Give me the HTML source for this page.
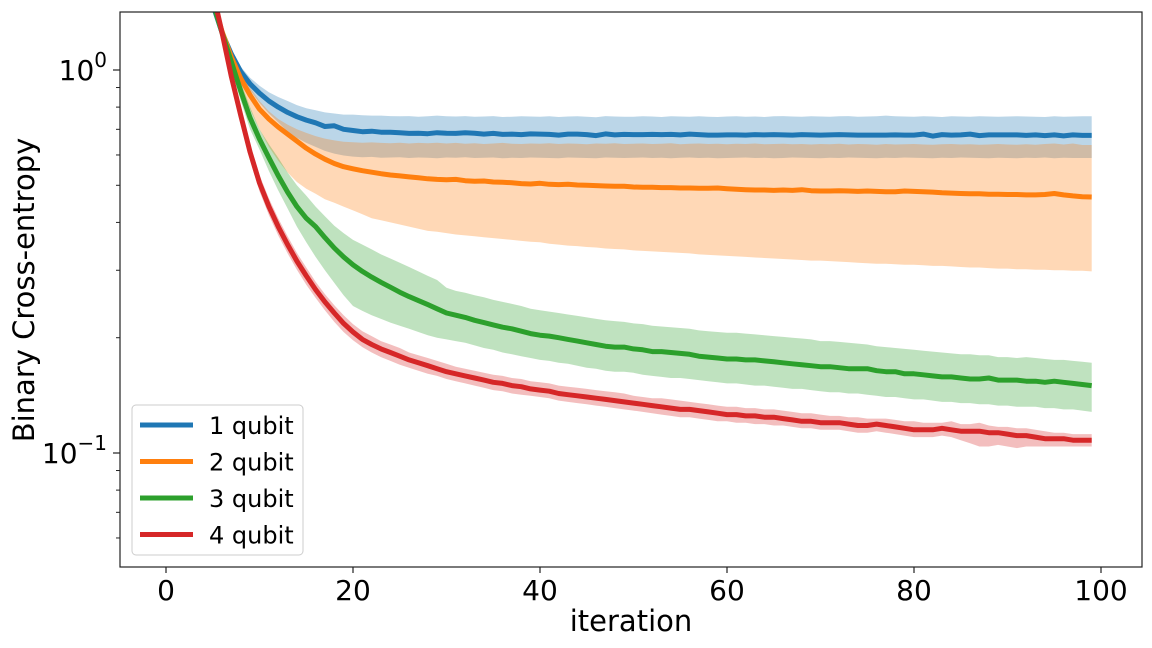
<!DOCTYPE html>
<html><head><meta charset="utf-8"><style>
body{margin:0;background:#fff;}
svg{display:block;font-family:"DejaVu Sans","Liberation Sans",sans-serif;}
</style></head><body>
<svg id="chart" width="1152" height="648" viewBox="0 0 1152 648">
<defs><clipPath id="plotclip"><rect x="120" y="12" width="1022" height="555"/></clipPath></defs>
<rect x="0" y="0" width="1152" height="648" fill="#fff"/>
<g id="bands" clip-path="url(#plotclip)"></g>
<g id="lines" clip-path="url(#plotclip)"></g>
<rect x="120" y="12" width="1022" height="555" fill="none" stroke="#222" stroke-width="1.2"/>
<g id="axes"></g>
<text x="631" y="631" text-anchor="middle" font-size="29" fill="#000">iteration</text>
<text transform="translate(34,290) rotate(-90)" text-anchor="middle" font-size="29" fill="#000">Binary Cross-entropy</text>
<g id="legend"></g>
</svg>
<script>
const seriesNames = ["1 qubit","2 qubit","3 qubit","4 qubit"];
const xTicks = [0,20,40,60,80,100];
const yMajor = [1, 0.1];
const yMajorLabels = ["0","−1"];
const yMinor = [0.06,0.07,0.08,0.09,0.2,0.3,0.4,0.5,0.6,0.7,0.8,0.9];

const blueMean = [5.0,3.8,2.9,2.25,1.8,1.48,1.25,1.1,0.99,0.92,
0.87,0.83,0.80,0.775,0.755,0.74,0.728,0.712,0.715,0.70,
0.695,0.69,0.692,0.688,0.688,0.686,0.683,0.684,0.682,0.686,
0.684,0.683,0.686,0.684,0.680,0.683,0.679,0.680,0.678,0.681,
0.680,0.679,0.676,0.680,0.680,0.678,0.674,0.681,0.677,0.679,
0.678,0.678,0.679,0.678,0.679,0.677,0.680,0.678,0.676,0.676,
0.677,0.677,0.676,0.678,0.677,0.678,0.677,0.676,0.678,0.677,
0.676,0.677,0.678,0.677,0.676,0.676,0.676,0.676,0.677,0.676,
0.676,0.680,0.672,0.678,0.676,0.677,0.680,0.674,0.677,0.677,
0.677,0.677,0.675,0.677,0.674,0.677,0.673,0.677,0.675,0.675];
const blueHi = [5.1,3.9,2.95,2.3,1.84,1.51,1.28,1.13,1.02,0.955,
0.91,0.875,0.85,0.83,0.81,0.795,0.785,0.775,0.77,0.765,
0.765,0.762,0.76,0.76,0.758,0.757,0.758,0.755,0.757,0.76,
0.757,0.756,0.758,0.755,0.756,0.758,0.754,0.755,0.757,0.756,
0.755,0.757,0.754,0.756,0.757,0.755,0.753,0.758,0.756,0.755,
0.755,0.757,0.756,0.754,0.757,0.756,0.755,0.757,0.755,0.754,
0.756,0.757,0.755,0.756,0.754,0.757,0.758,0.756,0.755,0.757,
0.756,0.755,0.757,0.758,0.755,0.756,0.757,0.760,0.757,0.756,
0.755,0.757,0.756,0.754,0.757,0.756,0.755,0.757,0.756,0.755,
0.756,0.757,0.756,0.755,0.754,0.757,0.755,0.756,0.757,0.757];
const blueLo = [4.9,3.7,2.85,2.2,1.76,1.45,1.22,1.07,0.96,0.885,
0.82,0.77,0.73,0.69,0.665,0.645,0.63,0.615,0.605,0.598,
0.594,0.592,0.593,0.59,0.591,0.592,0.589,0.591,0.59,0.588,
0.591,0.59,0.592,0.589,0.59,0.591,0.588,0.59,0.589,0.591,
0.59,0.589,0.588,0.591,0.59,0.589,0.588,0.591,0.59,0.589,
0.59,0.591,0.589,0.59,0.588,0.59,0.591,0.589,0.59,0.588,
0.589,0.59,0.591,0.589,0.59,0.588,0.589,0.591,0.59,0.589,
0.588,0.59,0.589,0.591,0.59,0.589,0.588,0.59,0.589,0.591,
0.59,0.589,0.588,0.59,0.589,0.591,0.59,0.589,0.588,0.59,
0.589,0.588,0.59,0.589,0.591,0.588,0.59,0.589,0.589,0.589];

const orangeMean = [5.5,4.1,3.1,2.4,1.9,1.52,1.26,1.08,0.95,0.86,
0.79,0.745,0.71,0.68,0.652,0.625,0.603,0.585,0.57,0.559,
0.552,0.546,0.541,0.536,0.532,0.529,0.526,0.523,0.52,0.518,
0.517,0.518,0.514,0.512,0.513,0.51,0.509,0.508,0.505,0.504,
0.506,0.503,0.502,0.503,0.501,0.5,0.499,0.498,0.497,0.497,
0.495,0.494,0.494,0.493,0.493,0.492,0.492,0.491,0.491,0.492,
0.49,0.488,0.487,0.486,0.486,0.485,0.486,0.485,0.487,0.484,
0.483,0.483,0.484,0.483,0.482,0.483,0.482,0.481,0.481,0.483,
0.482,0.481,0.48,0.478,0.477,0.476,0.475,0.475,0.474,0.474,
0.473,0.473,0.472,0.472,0.473,0.476,0.472,0.469,0.467,0.466];
const orangeHi = [5.7,4.25,3.2,2.48,1.96,1.57,1.3,1.12,0.99,0.9,
0.83,0.78,0.745,0.72,0.7,0.685,0.672,0.662,0.655,0.65,
0.648,0.646,0.647,0.645,0.644,0.646,0.643,0.645,0.644,0.646,
0.643,0.645,0.642,0.644,0.641,0.643,0.645,0.642,0.641,0.643,
0.642,0.644,0.641,0.643,0.642,0.640,0.643,0.642,0.644,0.641,
0.642,0.643,0.641,0.642,0.644,0.640,0.642,0.643,0.641,0.642,
0.640,0.642,0.641,0.643,0.640,0.641,0.642,0.640,0.641,0.639,
0.641,0.640,0.642,0.639,0.641,0.640,0.638,0.641,0.639,0.640,
0.641,0.639,0.638,0.640,0.641,0.639,0.640,0.638,0.639,0.641,
0.639,0.638,0.640,0.638,0.641,0.643,0.639,0.643,0.637,0.637];
const orangeLo = [5.3,3.95,3.0,2.32,1.84,1.47,1.22,1.04,0.9,0.79,
0.7,0.63,0.58,0.54,0.51,0.49,0.475,0.46,0.45,0.44,
0.43,0.42,0.41,0.405,0.4,0.395,0.39,0.385,0.38,0.378,
0.375,0.372,0.37,0.368,0.366,0.364,0.362,0.36,0.358,0.356,
0.355,0.352,0.35,0.348,0.347,0.345,0.344,0.342,0.341,0.34,
0.338,0.337,0.336,0.335,0.334,0.333,0.332,0.33,0.329,0.328,
0.327,0.326,0.325,0.324,0.323,0.322,0.321,0.32,0.319,0.318,
0.318,0.317,0.316,0.315,0.314,0.313,0.312,0.312,0.311,0.31,
0.31,0.309,0.308,0.308,0.307,0.306,0.305,0.305,0.304,0.303,
0.303,0.302,0.302,0.301,0.301,0.3,0.3,0.299,0.299,0.298];

const greenMean = [5.8,4.2,3.15,2.4,1.88,1.5,1.25,1.05,0.88,0.75,
0.66,0.59,0.53,0.48,0.44,0.41,0.39,0.365,0.343,0.325,
0.31,0.298,0.288,0.279,0.271,0.263,0.256,0.25,0.244,0.238,
0.232,0.229,0.226,0.222,0.219,0.216,0.213,0.211,0.208,0.205,
0.203,0.202,0.2,0.198,0.196,0.194,0.192,0.19,0.189,0.189,
0.187,0.186,0.184,0.184,0.183,0.182,0.181,0.179,0.178,0.177,
0.176,0.176,0.175,0.175,0.174,0.173,0.172,0.171,0.17,0.169,
0.168,0.168,0.167,0.166,0.166,0.166,0.164,0.163,0.163,0.161,
0.161,0.16,0.159,0.158,0.158,0.157,0.156,0.156,0.157,0.155,
0.155,0.155,0.154,0.154,0.153,0.154,0.153,0.152,0.151,0.15];
const greenHi = [6.0,4.4,3.3,2.5,1.95,1.58,1.32,1.1,0.93,0.8,
0.7,0.64,0.59,0.54,0.5,0.47,0.44,0.415,0.392,0.375,
0.36,0.35,0.34,0.33,0.322,0.314,0.306,0.298,0.29,0.283,
0.27,0.265,0.262,0.258,0.255,0.251,0.248,0.245,0.242,0.238,
0.236,0.234,0.232,0.23,0.228,0.226,0.224,0.222,0.221,0.22,
0.218,0.217,0.215,0.214,0.213,0.212,0.211,0.209,0.208,0.207,
0.206,0.206,0.205,0.204,0.203,0.202,0.201,0.2,0.199,0.198,
0.196,0.196,0.195,0.194,0.193,0.192,0.19,0.189,0.188,0.187,
0.186,0.185,0.184,0.183,0.182,0.181,0.181,0.18,0.18,0.178,
0.178,0.177,0.178,0.177,0.176,0.175,0.175,0.174,0.173,0.172];
const greenLo = [5.5,4.0,3.0,2.3,1.8,1.45,1.2,1.0,0.83,0.7,
0.62,0.545,0.485,0.435,0.39,0.355,0.325,0.3,0.278,0.258,
0.242,0.235,0.229,0.224,0.219,0.215,0.211,0.207,0.203,0.2,
0.198,0.196,0.194,0.191,0.188,0.186,0.183,0.181,0.179,0.177,
0.175,0.174,0.172,0.171,0.169,0.167,0.166,0.164,0.163,0.163,
0.162,0.16,0.159,0.158,0.157,0.157,0.156,0.155,0.154,0.153,
0.152,0.152,0.151,0.15,0.15,0.149,0.148,0.147,0.147,0.146,
0.145,0.144,0.144,0.143,0.143,0.142,0.141,0.14,0.14,0.139,
0.138,0.138,0.137,0.136,0.136,0.135,0.135,0.134,0.134,0.133,
0.133,0.132,0.132,0.132,0.131,0.131,0.13,0.13,0.129,0.128];

const redMean = [6.5,4.6,3.3,2.4,1.95,1.6,1.25,0.96,0.76,0.61,
0.507,0.44,0.39,0.35,0.317,0.29,0.267,0.248,0.232,0.218,
0.207,0.198,0.192,0.187,0.183,0.179,0.175,0.172,0.169,0.166,
0.163,0.161,0.159,0.157,0.155,0.153,0.152,0.15,0.149,0.147,
0.146,0.145,0.143,0.142,0.141,0.14,0.139,0.138,0.137,0.136,
0.135,0.134,0.133,0.132,0.131,0.13,0.13,0.129,0.128,0.127,
0.126,0.126,0.125,0.125,0.124,0.124,0.123,0.122,0.121,0.121,
0.12,0.12,0.12,0.119,0.118,0.118,0.119,0.118,0.117,0.116,
0.115,0.115,0.115,0.116,0.115,0.114,0.114,0.114,0.113,0.113,
0.112,0.111,0.111,0.11,0.109,0.109,0.109,0.108,0.108,0.108];
const redHi = [6.8,4.8,3.45,2.5,2.03,1.68,1.31,1.01,0.8,0.64,
0.532,0.462,0.41,0.368,0.333,0.305,0.28,0.26,0.243,0.229,
0.217,0.208,0.202,0.196,0.192,0.188,0.183,0.18,0.177,0.174,
0.171,0.168,0.166,0.164,0.162,0.16,0.159,0.157,0.156,0.154,
0.153,0.152,0.15,0.149,0.148,0.147,0.146,0.145,0.144,0.143,
0.141,0.14,0.139,0.139,0.138,0.137,0.136,0.135,0.134,0.133,
0.132,0.132,0.131,0.131,0.13,0.13,0.129,0.128,0.127,0.127,
0.126,0.125,0.125,0.124,0.124,0.123,0.123,0.123,0.122,0.121,
0.121,0.12,0.12,0.12,0.121,0.119,0.119,0.12,0.118,0.117,
0.117,0.116,0.116,0.115,0.114,0.113,0.113,0.112,0.112,0.112];
const redLo = [6.2,4.4,3.15,2.3,1.87,1.52,1.19,0.91,0.72,0.58,
0.482,0.418,0.37,0.332,0.301,0.275,0.254,0.236,0.22,0.207,
0.197,0.189,0.183,0.178,0.174,0.17,0.167,0.164,0.161,0.159,
0.156,0.154,0.152,0.15,0.148,0.146,0.145,0.143,0.142,0.141,
0.14,0.139,0.137,0.136,0.135,0.134,0.133,0.132,0.131,0.13,
0.129,0.128,0.127,0.126,0.125,0.124,0.124,0.123,0.122,0.121,
0.121,0.12,0.12,0.119,0.119,0.118,0.118,0.117,0.116,0.116,
0.115,0.115,0.115,0.114,0.113,0.113,0.114,0.113,0.112,0.111,
0.11,0.11,0.11,0.111,0.11,0.108,0.106,0.104,0.104,0.105,
0.104,0.103,0.104,0.104,0.104,0.104,0.104,0.104,0.104,0.104];

const seriesMeans = [blueMean, orangeMean, greenMean, redMean];
const seriesHis = [blueHi, orangeHi, greenHi, redHi];
const seriesLos = [blueLo, orangeLo, greenLo, redLo];
const colors = ["#1f77b4","#ff7f0e","#2ca02c","#d62728"];

const NS = "http://www.w3.org/2000/svg";
function xs(i){ return 166 + i * 9.35; }
function ys(v){ return 70 - Math.log10(v) * 383; }
function mk(tag, attrs, parent){
  const el = document.createElementNS(NS, tag);
  for (const k in attrs) el.setAttribute(k, attrs[k]);
  parent.appendChild(el);
  return el;
}
const bandsG = document.getElementById('bands');
const linesG = document.getElementById('lines');
const axesG = document.getElementById('axes');
const legendG = document.getElementById('legend');

for (let s = 0; s < seriesMeans.length; s++) {
  const hi = seriesHis[s], lo = seriesLos[s];
  let d = "";
  for (let i = 0; i < hi.length; i++) d += (i ? "L" : "M") + xs(i).toFixed(1) + "," + ys(hi[i]).toFixed(1);
  for (let i = lo.length - 1; i >= 0; i--) d += "L" + xs(i).toFixed(1) + "," + ys(lo[i]).toFixed(1);
  const band = mk('path', {d: d + "Z", fill: colors[s], 'fill-opacity': 0.3, stroke: 'none'}, bandsG);
  
  
}
for (let s = 0; s < seriesMeans.length; s++) {
  const m = seriesMeans[s];
  let pts = m.map((v, i) => xs(i).toFixed(1) + "," + ys(v).toFixed(1)).join(" ");
  const line = mk('polyline', {points: pts, fill: 'none', stroke: colors[s], 'stroke-width': 5, 'stroke-linejoin': 'round'}, linesG);
  
  
}
xTicks.forEach(t => {
  const x = xs(t);
  const tk = mk('line', {x1: x, x2: x, y1: 567, y2: 573, stroke: '#222', 'stroke-width': 1.2}, axesG);
  
  
  const lb = mk('text', {x: x, y: 600, 'text-anchor': 'middle', 'font-size': 28, fill: '#000'}, axesG);
  lb.textContent = t;
  
  
});
yMajor.forEach((v, i) => {
  const y = ys(v);
  const tk = mk('line', {x1: 113, x2: 120, y1: y, y2: y, stroke: '#222', 'stroke-width': 1.2}, axesG);
  
  
  const lb = mk('text', {x: 107, y: y + 10, 'text-anchor': 'end', 'font-size': 28, fill: '#000'}, axesG);
  
  
  lb.textContent = "10";
  const sup = mk('tspan', {dy: -13, 'font-size': 20}, lb);
  sup.textContent = yMajorLabels[i];
});
yMinor.forEach(v => {
  const y = ys(v);
  const tk = mk('line', {x1: 116, x2: 120, y1: y, y2: y, stroke: '#222', 'stroke-width': 1}, axesG);
  
  
});
const box = mk('rect', {x: 132, y: 405, width: 171, height: 150, rx: 4, fill: '#fff', 'fill-opacity': 0.8, stroke: '#ccc', 'stroke-width': 1}, legendG);


seriesNames.forEach((n, i) => {
  const y = 425 + i * 36.5;
  const g = mk('g', {}, legendG);
  
  
  mk('line', {x1: 140, x2: 193, y1: y, y2: y, stroke: colors[i], 'stroke-width': 5}, g);
  const t = mk('text', {x: 209, y: y + 9, 'font-size': 24, fill: '#000'}, g);
  t.textContent = n;
});
</script>
</body></html>
